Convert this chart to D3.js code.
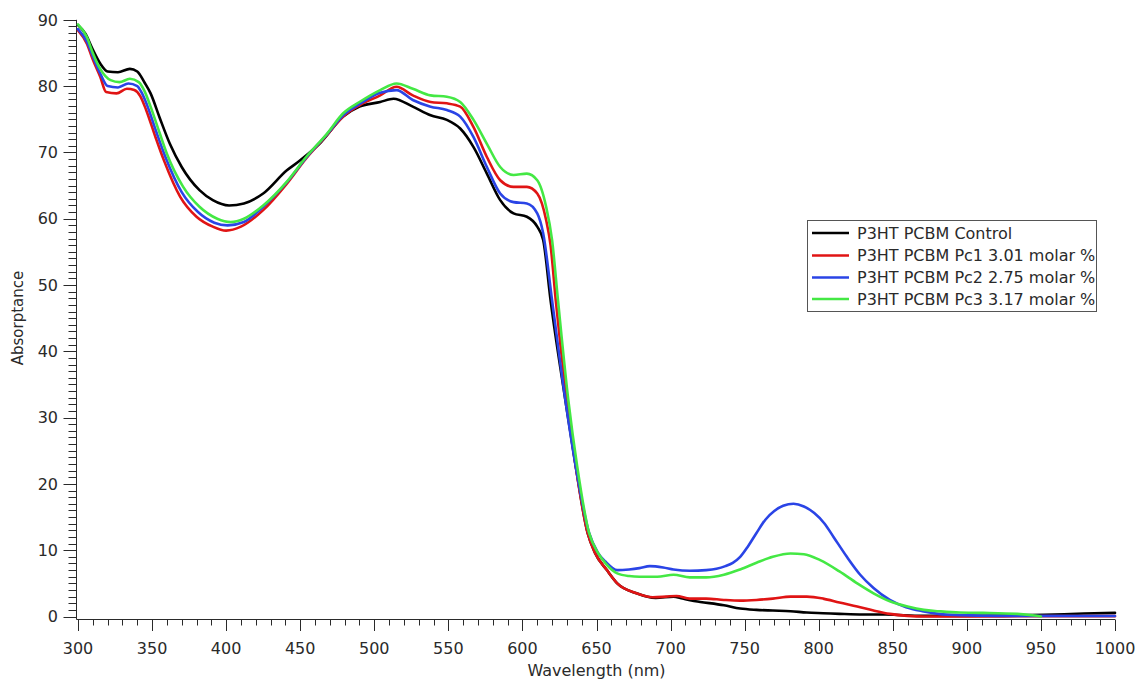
<!DOCTYPE html>
<html>
<head>
<meta charset="utf-8">
<script src="https://cdn.jsdelivr.net/npm/d3@7"></script>
<style>
  html, body { margin: 0; padding: 0; background: #ffffff; }
  svg { display: block; }
  text { font-family: "DejaVu Sans", sans-serif; fill: #2a2a2a; }
</style>
</head>
<body>
<svg id="chart" width="1139" height="679"></svg>
<script>
// ---------------- DATA ----------------
const seriesNames = [
  "P3HT PCBM Control",
  "P3HT PCBM Pc1 3.01 molar %",
  "P3HT PCBM Pc2 2.75 molar %",
  "P3HT PCBM Pc3 3.17 molar %"
];
const seriesColors = ["#000000", "#e01414", "#2a44e6", "#44e844"];

const xTickValues = [300, 350, 400, 450, 500, 550, 600, 650, 700, 750, 800, 850, 900, 950, 1000];
const yTickValues = [0, 10, 20, 30, 40, 50, 60, 70, 80, 90];

const controlWl = [300,305,310,315,320,327,335,340,345,349,355,362,370,382,391,402,412,425,441,450,463,479,490,504,513,526,538,549,558,567,576,585,594,603,610,614,619,629,636,644,649,657,664,677,690,702,708,714,720,736,747,758,769,781,792,803,814,830,845,870,900,930,952,979,1000];
const controlAbs = [89.2,87.9,85.5,83.4,82.2,82.1,82.6,82.2,80.5,78.9,75.3,71.3,67.8,64.3,62.8,62.0,62.3,63.8,67.3,68.8,71.3,75.4,76.9,77.6,78.1,76.9,75.6,74.9,73.6,70.8,66.8,62.8,60.8,60.3,58.8,56.8,47.7,32.6,22.6,12.6,9.6,7.0,5.0,3.5,2.8,3.0,2.7,2.4,2.2,1.7,1.2,1.0,0.9,0.8,0.6,0.5,0.4,0.3,0.3,0.1,0.1,0.15,0.25,0.45,0.55];

const pc1Wl = [300,306,310,315,319,326,333,338,342,346,352,358,369,380,391,400,410,425,441,454,468,479,490,504,515,526,538,549,558,567,576,585,594,603,610,616,619,622.5,630,636,644,649,657,664,677,688,697,704,713,724,736,747,758,769,781,792,803,814,826,837,848,860,871,900,950,1000];
const pc1Abs = [88.4,86.4,84.0,81.4,79.1,78.9,79.6,79.4,78.5,76.4,72.5,68.8,63.3,60.3,58.8,58.2,58.8,61.3,65.3,69.1,72.6,75.4,77.1,78.6,79.9,78.6,77.6,77.4,76.9,73.8,69.3,65.8,64.8,64.8,63.8,59.8,56.0,47.7,32.6,22.6,12.6,9.6,7.0,5.0,3.5,2.9,3.0,3.1,2.7,2.7,2.5,2.4,2.5,2.7,3.0,3.0,2.7,2.1,1.5,0.9,0.4,0.1,0.0,0.0,0.05,0.05];

const pc2Wl = [300,306,310,315,320,327,334,340,343,347,353,359,370,381,392,401,412,425,441,454,468,479,490,504,515,526,538,549,558,567,576,585,594,603,610,614,620,629,636,645,651,656,664,672,679,686,695,702,713,724,731,737,742,747,752,758,764,770,776,783,790,797,804,810,819,828,837,848,859,870,881,895,920,1000];
const pc2Abs = [88.6,86.7,84.5,81.9,80.0,79.8,80.4,80.0,79.0,76.9,73.0,69.3,64.0,61.0,59.4,59.0,59.5,61.8,65.5,69.2,72.7,75.6,77.3,79.0,79.4,77.9,76.9,76.4,75.4,72.3,67.8,63.8,62.5,62.3,60.8,57.8,47.7,32.6,22.6,12.6,9.6,8.3,7.0,7.1,7.3,7.6,7.4,7.1,6.9,7.0,7.2,7.6,8.1,9.0,10.5,12.6,14.6,15.9,16.7,17.0,16.6,15.6,14.0,12.0,9.0,6.3,4.3,2.5,1.4,0.8,0.4,0.2,0.1,0.08];

const pc3Wl = [300,306,310,315,322,328,335,341,345,349,355,360,371,382,394,403,412,425,441,454,468,479,490,504,515,526,538,549,558,567,576,585,594,603,610,616,620,624,631,637,645,651,657,664,672,679,691,702,713,724,736,747,758,769,781,790,801,814,826,837,848,860,871,881,895,911,934,947,950];
const pc3Abs = [89.3,87.4,85.0,82.6,80.9,80.6,81.1,80.6,79.2,76.9,73.0,69.8,64.8,61.8,60.0,59.5,60.0,62.0,65.6,69.3,72.8,75.9,77.6,79.4,80.4,79.6,78.6,78.4,77.6,74.9,71.3,67.8,66.6,66.8,65.8,61.8,56.8,47.7,32.6,22.6,12.6,9.6,7.8,6.5,6.1,6.0,6.0,6.3,5.9,5.9,6.3,7.1,8.1,9.0,9.5,9.4,8.5,6.8,5.0,3.5,2.3,1.5,1.0,0.8,0.6,0.55,0.4,0.1,0.0];

const seriesWl = [controlWl, pc1Wl, pc2Wl, pc3Wl];
const seriesAbs = [controlAbs, pc1Abs, pc2Abs, pc3Abs];

// ---------------- CHART ----------------
const svg = d3.select("#chart");

const x = d3.scaleLinear().domain([300, 1000]).range([78, 1115]);
const y = d3.scaleLinear().domain([0, 90]).range([616.5, 19.8]);

const axisColor = "#2a2a2a";
const xAxisY = 619.5;
const yAxisX = 76.5;

// X axis
const xAxisG = svg.append("g").attr("transform", `translate(0,${xAxisY})`);
xAxisG.append("line")
  .attr("x1", yAxisX).attr("x2", x(1000)).attr("y1", 0).attr("y2", 0)
  .attr("stroke", axisColor).attr("stroke-width", 1);
const xMinor = d3.range(300, 1001, 10);
xAxisG.selectAll("line.minor").data(xMinor).enter().append("line")
  .attr("class", "minor")
  .attr("x1", d => Math.round(x(d)) + 0.5).attr("x2", d => Math.round(x(d)) + 0.5)
  .attr("y1", 0).attr("y2", d => (d % 50 === 0) ? 11.5 : 6)
  .attr("stroke", axisColor).attr("stroke-width", 1);
xAxisG.selectAll("text.tl").data(xTickValues).enter().append("text")
  .attr("class", "tl")
  .attr("x", d => x(d)).attr("y", 34.5)
  .attr("text-anchor", "middle")
  .style("font-size", "16px")
  .text(d => d);

// Y axis
const yAxisG = svg.append("g");
yAxisG.append("line")
  .attr("x1", yAxisX).attr("x2", yAxisX).attr("y1", y(90)).attr("y2", xAxisY)
  .attr("stroke", axisColor).attr("stroke-width", 1);
const yMinor = d3.range(0, 91, 1);
yAxisG.selectAll("line.minor").data(yMinor).enter().append("line")
  .attr("class", "minor")
  .attr("x1", d => (d % 10 === 0) ? yAxisX - 13 : yAxisX - 8).attr("x2", yAxisX)
  .attr("y1", d => Math.round(y(d)) + 0.5).attr("y2", d => Math.round(y(d)) + 0.5)
  .attr("stroke", axisColor).attr("stroke-width", 1);
yAxisG.selectAll("text.tl").data(yTickValues).enter().append("text")
  .attr("class", "tl")
  .attr("x", 58).attr("y", d => y(d))
  .attr("dy", "0.36em")
  .attr("text-anchor", "end")
  .style("font-size", "16px")
  .text(d => d);

// Axis titles
svg.append("text")
  .attr("x", (x(300) + x(1000)) / 2).attr("y", 676)
  .attr("text-anchor", "middle")
  .style("font-size", "16px")
  .text("Wavelength (nm)");
svg.append("text")
  .attr("transform", "translate(23,318) rotate(-90)")
  .attr("text-anchor", "middle")
  .style("font-size", "15px")
  .text("Absorptance");

// Lines
const line = d3.line()
  .x(d => x(d[0]))
  .y(d => y(d[1]))
  .curve(d3.curveMonotoneX);

const linesG = svg.append("g");
seriesWl.forEach((wl, i) => {
  const pts = wl.map((w, j) => [w, seriesAbs[i][j]]);
  linesG.append("path")
    .datum(pts)
    .attr("d", line)
    .attr("fill", "none")
    .attr("stroke", seriesColors[i])
    .attr("stroke-width", 2.6)
    .attr("stroke-linejoin", "round")
    .attr("stroke-linecap", "round");
});

// Legend
const legend = svg.append("g");
legend.append("rect")
  .attr("x", 807.5).attr("y", 220.5).attr("width", 289).attr("height", 91)
  .attr("fill", "#ffffff").attr("stroke", "#555555").attr("stroke-width", 1);
const legendRowY = [233, 255.5, 277.5, 299];
seriesNames.forEach((name, i) => {
  legend.append("line")
    .attr("x1", 812).attr("x2", 849)
    .attr("y1", legendRowY[i]).attr("y2", legendRowY[i])
    .attr("stroke", seriesColors[i]).attr("stroke-width", 2.6);
  legend.append("text")
    .attr("x", 857).attr("y", legendRowY[i])
    .attr("dy", "0.36em")
    .style("font-size", "16px")
    .text(name);
});
</script>
</body>
</html>
